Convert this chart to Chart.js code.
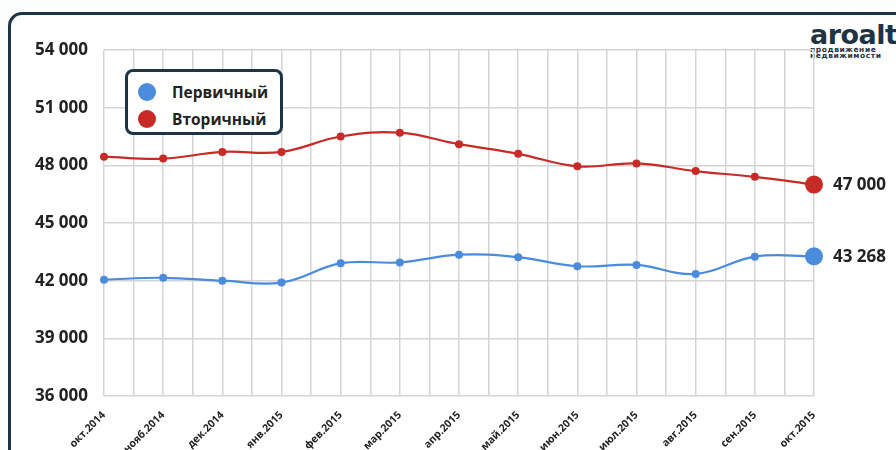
<!DOCTYPE html>
<html lang="ru">
<head>
<meta charset="utf-8">
<script src="https://cdn.jsdelivr.net/npm/chart.js@4"></script>
<style>
  html, body { margin: 0; padding: 0; background: #fbfcfc; }
  body { width: 896px; height: 450px; position: relative; overflow: hidden; font-family: 'Open Sans', sans-serif; }
  .panel { position: absolute; left: 8px; top: 12px; width: 920px; height: 480px; box-sizing: border-box;
    border: 3px solid #1d3447; border-radius: 14px; background: #fff; }
  .logo { position: absolute; left: 810px; top: 23px; white-space: nowrap; color: #1d3447; }
  .logo .name { font: 900 27px 'DejaVu Sans', sans-serif; letter-spacing: -0.5px; line-height: 24px; }
  .logo .sub { font: bold 7.5px 'DejaVu Sans', sans-serif; line-height: 6px; letter-spacing: 0.6px; }
  #chart-wrap { position: absolute; left: 0; top: 0; width: 896px; height: 450px; }
  .legend { position: absolute; left: 125px; top: 69px; width: 158px; height: 66px; box-sizing: border-box;
    border: 3px solid #1d3447; border-radius: 8px; background: #fff; padding: 6px 0 0 10px; }
  .legend .row { display: flex; align-items: center; height: 27px; }
  .legend .dot { width: 18px; height: 18px; border-radius: 50%; margin-right: 16px; }
  .legend .txt { font: bold 15.5px 'Open Sans', sans-serif; color: #222; }
</style>
</head>
<body>
<div class="panel"></div>
<div class="logo">
  <div class="name">aroalty</div>
  <div class="sub">продвижение</div>
  <div class="sub">недвижимости</div>
</div>
<div id="chart-wrap"><canvas id="price-chart" width="896" height="450"></canvas></div>
<div class="legend" id="legend"></div>

<script>
// ===== Price chart: primary vs secondary market =====
const months = ['окт.2014', 'нояб.2014', 'дек.2014', 'янв.2015', 'фев.2015', 'мар.2015', 'апр.2015',
  'май.2015', 'июн.2015', 'июл.2015', 'авг.2015', 'сен.2015', 'окт.2015'];
const primary = [42050, 42150, 42000, 41900, 42900, 42950, 43350, 43220, 42750, 42820, 42350, 43250, 43268];
const secondary = [48450, 48350, 48700, 48700, 49500, 49700, 49100, 48600, 47950, 48100, 47700, 47400, 47000];
const yTicks = [36000, 39000, 42000, 45000, 48000, 51000, 54000];

const BLUE = '#4a8bdc';
const RED = '#c82a26';

function formatThousands(v) {
  return String(Math.round(v)).replace(/\B(?=(\d{3})+(?!\d))/g, ' ');
}

function pointSizes(n, normal, last) {
  return Array.from({ length: n }, (_, i) => i === n - 1 ? last : normal);
}

// value labels next to the last point of each series
const endLabels = {
  id: 'endLabels',
  afterDatasetsDraw(chart) {
    const { ctx } = chart;
    ctx.save();
    ctx.font = 'bold 17px "Open Sans", sans-serif';
    ctx.fillStyle = '#222';
    ctx.textBaseline = 'middle';
    chart.data.datasets.forEach((ds, i) => {
      const meta = chart.getDatasetMeta(i);
      const pt = meta.data[meta.data.length - 1];
      ctx.fillText(formatThousands(ds.data[ds.data.length - 1]), pt.x + 19, pt.y + 1);
    });
    ctx.restore();
  }
};

function makeDataset(label, data, color) {
  return {
    label, data,
    borderColor: color, backgroundColor: color,
    borderWidth: 2.2, tension: 0.4,
    pointRadius: pointSizes(data.length, 4, 9),
    pointHoverRadius: pointSizes(data.length, 4, 9),
    pointBorderWidth: 0,
    clip: false
  };
}

const chart = new Chart(document.getElementById('price-chart'), {
  type: 'line',
  data: {
    labels: months,
    datasets: [makeDataset('Первичный', primary, BLUE), makeDataset('Вторичный', secondary, RED)]
  },
  options: {
    responsive: false, animation: false,
    layout: { padding: { left: 0, right: 82, top: 50, bottom: 0 } },
    plugins: { legend: { display: false }, tooltip: { enabled: false } },
    scales: {
      x: {
        type: 'category', offset: false,
        grid: { display: false }, border: { display: false },
        ticks: { autoSkip: false, minRotation: 45, maxRotation: 45, padding: 5,
          color: '#222', font: { family: 'Open Sans', weight: 'bold', size: 10.5 } },
        afterFit: s => { s.height = 54; }
      },
      // grid-only axis: vertical lines at every half month
      xg: {
        type: 'linear', position: 'top', min: 0, max: months.length - 1,
        ticks: { display: false, stepSize: 0.5 },
        grid: { color: '#d4d4d4', lineWidth: 1.5, drawTicks: false },
        border: { display: false },
        afterFit: s => { s.height = 0; }
      },
      y: {
        min: yTicks[0], max: yTicks[yTicks.length - 1],
        afterBuildTicks: s => { s.ticks = yTicks.map(v => ({ value: v })); },
        ticks: { padding: 16, color: '#222', font: { family: 'Open Sans', weight: 'bold', size: 17 },
          callback: v => formatThousands(v) },
        grid: { color: '#d4d4d4', lineWidth: 1.5, drawTicks: false },
        border: { display: false },
        afterFit: s => { s.width = 104; }
      }
    }
  },
  plugins: [endLabels]
});

// legend built from the datasets
document.getElementById('legend').innerHTML = chart.data.datasets.map(ds => `
  <div class="row"><span class="dot" style="background:${ds.borderColor}"></span><span class="txt">${ds.label}</span></div>
`).join('');
</script>
</body>
</html>
